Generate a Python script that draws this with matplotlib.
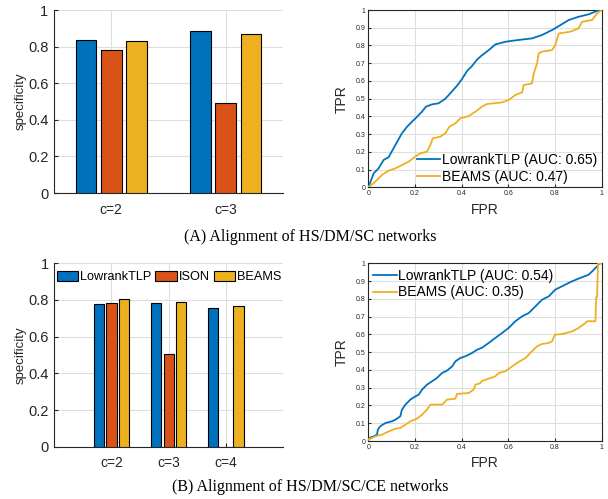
import matplotlib
matplotlib.use("Agg")
import matplotlib.pyplot as plt
import numpy as np

# --------------------------
# Data
# --------------------------
methods = ["LowrankTLP", "ISON", "BEAMS"]

# (A) HS/DM/SC networks
groups_a = ["c=2", "c=3"]
lowrank_a = [0.834, 0.888]
ison_a = [0.779, 0.492]
beams_a = [0.830, 0.868]

# (B) HS/DM/SC/CE networks
groups_b = ["c=2", "c=3", "c=4"]
lowrank_b = [0.777, 0.786, 0.755]
ison_b = [0.781, 0.503, 0.0]
beams_b = [0.803, 0.791, 0.765]

# ROC curves (A)
fpr_lowrank_a = [0, 0.023, 0.044, 0.066, 0.087, 0.116, 0.144, 0.166, 0.187, 0.209, 0.23, 0.247,
                 0.273, 0.301, 0.33, 0.351, 0.38, 0.401, 0.423, 0.444, 0.466, 0.487, 0.516, 0.544,
                 0.587, 0.63, 0.701, 0.744, 0.787, 0.823, 0.859, 0.901, 0.944, 0.98, 1.0]
tpr_lowrank_a = [0, 0.079, 0.107, 0.155, 0.17, 0.239, 0.305, 0.342, 0.37, 0.398, 0.427, 0.455,
                 0.468, 0.474, 0.50, 0.53, 0.573, 0.61, 0.656, 0.684, 0.721, 0.745, 0.774, 0.806,
                 0.821, 0.829, 0.84, 0.859, 0.887, 0.915, 0.944, 0.962, 0.976, 0.995, 1.0]
fpr_beams_a = [0, 0.03, 0.059, 0.087, 0.116, 0.144, 0.173, 0.201, 0.223, 0.251, 0.266, 0.276,
               0.309, 0.33, 0.347, 0.373, 0.394, 0.43, 0.459, 0.487, 0.509, 0.573, 0.601, 0.63,
               0.659, 0.666, 0.701, 0.709, 0.723, 0.73, 0.744, 0.787, 0.801, 0.816, 0.866, 0.901,
               0.916, 0.959, 0.98, 1.0]
tpr_beams_a = [0, 0.032, 0.07, 0.094, 0.107, 0.126, 0.145, 0.173, 0.192, 0.201, 0.239, 0.276,
               0.286, 0.305, 0.342, 0.361, 0.389, 0.402, 0.427, 0.455, 0.47, 0.479, 0.492, 0.521,
               0.536, 0.577, 0.586, 0.643, 0.699, 0.756, 0.765, 0.774, 0.803, 0.868, 0.878, 0.897,
               0.934, 0.944, 0.981, 1.0]

# ROC curves (B)
fpr_lowrank_b = [0, 0.009, 0.023, 0.037, 0.041, 0.051, 0.073, 0.101, 0.116, 0.137, 0.144, 0.159,
                 0.18, 0.201, 0.216, 0.23, 0.251, 0.273, 0.294, 0.316, 0.337, 0.359, 0.373, 0.394,
                 0.416, 0.444, 0.466, 0.487, 0.516, 0.544, 0.573, 0.601, 0.63, 0.659, 0.687, 0.716,
                 0.744, 0.773, 0.801, 0.844, 0.873, 0.901, 0.944, 0.959, 0.98, 0.99, 1.0]
tpr_lowrank_b = [0.008, 0.02, 0.026, 0.036, 0.064, 0.083, 0.101, 0.111, 0.12, 0.139, 0.176, 0.205,
                 0.233, 0.251, 0.261, 0.289, 0.317, 0.336, 0.355, 0.383, 0.396, 0.42, 0.448, 0.467,
                 0.477, 0.495, 0.514, 0.525, 0.552, 0.58, 0.608, 0.636, 0.674, 0.702, 0.72, 0.758,
                 0.795, 0.814, 0.852, 0.88, 0.899, 0.914, 0.936, 0.955, 0.983, 1.0, 1.0]
fpr_beams_b = [0, 0.03, 0.059, 0.087, 0.116, 0.137, 0.159, 0.18, 0.209, 0.23, 0.251, 0.266,
               0.316, 0.337, 0.373, 0.38, 0.43, 0.451, 0.459, 0.48, 0.487, 0.516, 0.544, 0.559,
               0.587, 0.616, 0.644, 0.673, 0.701, 0.723, 0.744, 0.773, 0.787, 0.799, 0.83, 0.873,
               0.901, 0.93, 0.937, 0.973, 0.976, 0.98, 0.984, 1.0]
tpr_beams_b = [0.008, 0.026, 0.036, 0.054, 0.069, 0.073, 0.092, 0.111, 0.126, 0.148, 0.176, 0.205,
               0.205, 0.233, 0.238, 0.265, 0.27, 0.289, 0.317, 0.326, 0.338, 0.351, 0.364, 0.383,
               0.392, 0.42, 0.445, 0.467, 0.505, 0.533, 0.546, 0.552, 0.561, 0.598, 0.602, 0.617,
               0.636, 0.664, 0.674, 0.674, 0.809, 0.809, 1.0, 1.0]

auc_a = [0.65, 0.47]
auc_b = [0.54, 0.35]

captions = ["(A) Alignment of HS/DM/SC networks",
            "(B) Alignment of HS/DM/SC/CE networks"]

# MATLAB default colours
colors = ["#0072BD", "#D95319", "#EDB120"]
axis_color = "#262626"
grid_color = "#dedede"

plt.rcParams["font.family"] = ["Liberation Sans", "DejaVu Sans"]


def bar_panel(fig, rect, groups, series, xlim, show_legend):
    ax = fig.add_axes(rect)
    x = np.arange(1, len(groups) + 1)
    offsets = [-0.22, 0.0, 0.22]
    for vals, off, col, name in zip(series, offsets, colors, methods):
        ax.bar(x + off, vals, width=0.18, color=col, edgecolor="black",
               linewidth=0.8, label=name, zorder=3)
    ax.set_xlim(*xlim)
    ax.set_ylim(0, 1)
    ax.set_xticks(x)
    ax.set_xticklabels(groups, fontsize=10)
    ax.set_yticks([0, 0.2, 0.4, 0.6, 0.8, 1.0])
    ax.set_yticklabels(["0", "0.2", "0.4", "0.6", "0.8", "1"], fontsize=10.5)
    ax.set_ylabel("specificity", fontsize=9.5, labelpad=1, color=axis_color)
    ax.grid(True, color=grid_color, linewidth=0.8, zorder=0)
    ax.set_axisbelow(True)
    ax.spines["top"].set_visible(False)
    ax.spines["right"].set_visible(False)
    for s in ["left", "bottom"]:
        ax.spines[s].set_color(axis_color)
        ax.spines[s].set_linewidth(0.8)
    ax.tick_params(direction="in", length=3, colors=axis_color, pad=4)
    ax.tick_params(axis="x", pad=7)
    if show_legend:
        ax.legend(loc="center left", bbox_to_anchor=(0.01, 0.925), ncol=3,
                  frameon=False, fontsize=9.2, handlelength=1.7, handleheight=0.8,
                  handletextpad=0.15, columnspacing=0.3, borderpad=0, borderaxespad=0)
    return ax


def roc_panel(fig, rect, curves, aucs, legend_loc, legend_anchor):
    ax = fig.add_axes(rect)
    names = ["LowrankTLP", "BEAMS"]
    line_colors = [colors[0], colors[2]]
    for (fx, ty), auc, name, col in zip(curves, aucs, names, line_colors):
        ax.plot(fx, ty, color=col, linewidth=1.3, label=f"{name} (AUC: {auc:.2f})", zorder=3)
    ax.set_xlim(0, 1)
    ax.set_ylim(0, 1)
    ax.set_xticks([0, 0.2, 0.4, 0.6, 0.8, 1.0])
    ax.set_xticklabels(["0", "0.2", "0.4", "0.6", "0.8", "1"], fontsize=5)
    ax.set_yticks(np.round(np.arange(0, 1.01, 0.1), 1))
    ax.set_yticklabels(["0"] + [f"{v:.1f}" for v in np.arange(0.1, 0.95, 0.1)] + ["1"], fontsize=5)
    ax.set_xlabel("FPR", fontsize=10, labelpad=4, color=axis_color)
    ax.set_ylabel("TPR", fontsize=10, labelpad=5, color=axis_color)
    ax.grid(True, color=grid_color, linewidth=0.8, zorder=0)
    ax.set_axisbelow(True)
    for s in ax.spines.values():
        s.set_color(axis_color)
        s.set_linewidth(0.8)
    ax.tick_params(direction="in", length=2, colors=axis_color, pad=2)
    ax.legend(loc=legend_loc, bbox_to_anchor=legend_anchor, frameon=False, fontsize=10,
              handlelength=1.7, handletextpad=0.1, labelspacing=0.2,
              borderpad=0, borderaxespad=0)
    return ax


def main():
    fig = plt.figure(figsize=(6.08, 4.99), dpi=100)

    # top row: panel (A)
    bar_panel(fig, [0.0888, 0.6132, 0.3766, 0.3667], groups_a,
              [lowrank_a, ison_a, beams_a], (0.5, 2.5), False)
    roc_panel(fig, [0.6058, 0.6246, 0.3839, 0.3553],
              [(fpr_lowrank_a, tpr_lowrank_a), (fpr_beams_a, tpr_beams_a)],
              auc_a, "lower right", (0.98, 0.02))

    # bottom row: panel (B)
    bar_panel(fig, [0.0893, 0.1048, 0.3762, 0.3675], groups_b,
              [lowrank_b, ison_b, beams_b], (0.0, 4.0), True)
    roc_panel(fig, [0.6058, 0.1162, 0.3839, 0.3561],
              [(fpr_lowrank_b, tpr_lowrank_b), (fpr_beams_b, tpr_beams_b)],
              auc_b, "upper left", (0.02, 0.97))

    # captions in Times-like serif
    fig.text(0.51, 0.525, captions[0], ha="center", va="center", fontsize=11.5,
             family="Liberation Serif")
    fig.text(0.51, 0.024, captions[1], ha="center", va="center", fontsize=11.5,
             family="Liberation Serif")

    fig.savefig("out.png", dpi=100)


if __name__ == "__main__":
    main()
